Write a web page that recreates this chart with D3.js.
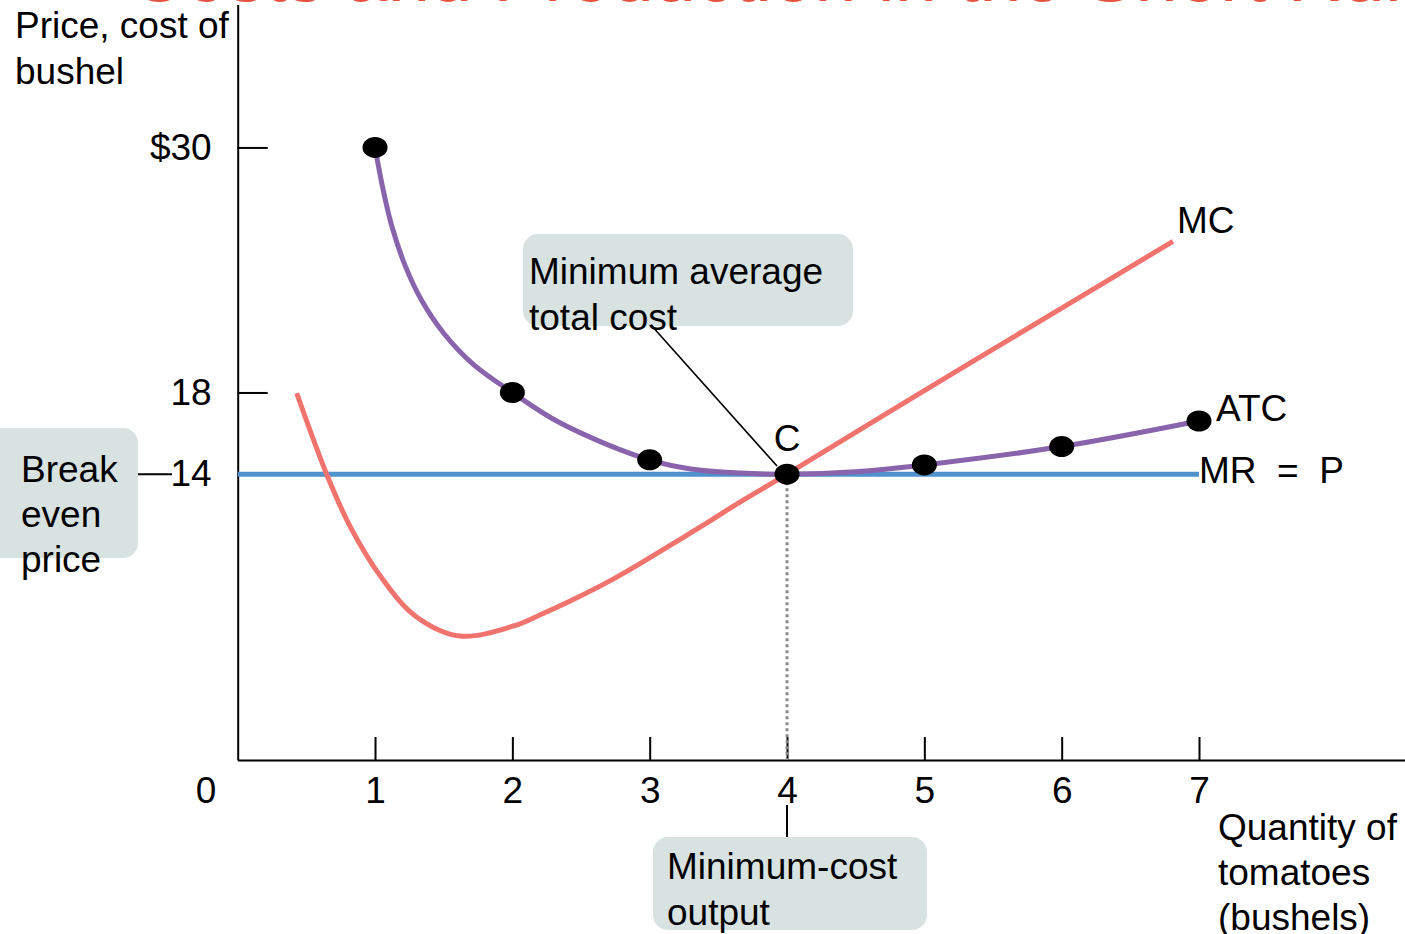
<!DOCTYPE html>
<html>
<head>
<meta charset="utf-8">
<script src="https://cdn.jsdelivr.net/npm/d3@7"></script>
<style>
  html, body { margin: 0; padding: 0; background: #fff; overflow: hidden; }
  svg { display: block; font-family: "Liberation Sans", Arial, Helvetica, sans-serif; }
  text { fill: #000; }
</style>
</head>
<body>
<svg id="chart" width="1405" height="934"></svg>
<script>
// ---- data ----
const title = "Costs and Production in the Short Run";
const xTickValues = [1, 2, 3, 4, 5, 6, 7];
const yTickValues = [30, 18, 14];
const yTickLabels = ["$30", "18", "14"];

// Average total cost curve (quantity, cost)
const atcQty  = [1, 1.06, 1.12, 1.22, 1.34, 1.5, 1.72, 2, 2.35, 2.95, 3.3, 3.66, 4, 4.5, 5, 6, 7];
const atcCost = [30, 27.9, 26.2, 24.2, 22.5, 20.9, 19.35, 18, 16.5, 14.8, 14.25, 14.05, 14.0, 14.12, 14.45, 15.35, 16.6];

// Marked points on ATC
const dotQty  = [1, 2, 3, 4, 5, 6, 7];
const dotCost = [30, 18, 14.7, 14, 14.45, 15.35, 16.6];

// Marginal cost curve
const mcQty  = [0.43, 0.65, 0.82, 1.06, 1.30, 1.62, 2.03, 2.2, 2.44, 2.69, 2.93, 3.17, 3.42, 3.54, 3.66, 3.9, 4.0, 5.0, 6.0, 6.81];
const mcCost = [17.96, 13.96, 11.42, 8.81, 7.02, 6.07, 6.61, 7.1, 7.85, 8.7, 9.62, 10.6, 11.62, 12.14, 12.64, 13.6, 14.0, 18.09, 22.13, 25.4];

// Marginal revenue = price
const mrQty = [0, 7];
const mrPrice = [14, 14];

const minCostQty = 4;
const minCostValue = 14;

// ---- drawing ----
const svg = d3.select("#chart");
const FONT = 37;

const x = d3.scaleLinear().domain([0, 8.5]).range([237.7, 1405]);
const y = d3.scaleLinear().domain([0, 37]).range([760, 4.5]);

// Title (mostly above the visible area)
svg.append("text")
  .attr("x", 130).attr("y", 1)
  .attr("font-size", 76)
  .style("fill", "#e4533f")
  .text(title);

// Annotation boxes
const boxFill = "#d8e2e0";
svg.append("rect").attr("x", 523).attr("y", 234).attr("width", 330).attr("height", 92).attr("rx", 15).attr("fill", boxFill);
svg.append("rect").attr("x", -20).attr("y", 428).attr("width", 158).attr("height", 130).attr("rx", 15).attr("fill", boxFill);
svg.append("rect").attr("x", 653).attr("y", 837).attr("width", 274).attr("height", 93).attr("rx", 15).attr("fill", boxFill);

// Axes
const xAxis = d3.axisBottom(x).tickValues(xTickValues).tickSizeInner(-23).tickSizeOuter(0).tickPadding(17).tickFormat(d3.format("d"));
const gx = svg.append("g").attr("transform", `translate(0,${y(0)})`).call(xAxis);
gx.selectAll("text").attr("font-size", FONT).attr("font-family", null).style("fill", "#000");
gx.selectAll("line, path").attr("stroke", "#000").attr("stroke-width", 2);

const yAxis = d3.axisLeft(y).tickValues(yTickValues).tickSizeInner(-30).tickSizeOuter(0).tickPadding(26)
  .tickFormat((d, i) => yTickLabels[i]);
const gy = svg.append("g").attr("transform", `translate(${x(0)},0)`).call(yAxis);
gy.selectAll("text").attr("font-size", FONT).attr("font-family", null).style("fill", "#000");
gy.selectAll("line, path").attr("stroke", "#000").attr("stroke-width", 2);

// origin label
svg.append("text").attr("x", 206).attr("y", y(0) + 17).attr("dy", "0.71em")
  .attr("text-anchor", "middle").attr("font-size", FONT).text("0");

// connector from break-even box to 14
svg.append("line").attr("x1", 138).attr("x2", 172).attr("y1", y(14)).attr("y2", y(14))
  .attr("stroke", "#000").attr("stroke-width", 2);

// dotted line at minimum-cost output
svg.append("line").attr("x1", x(minCostQty)).attr("x2", x(minCostQty))
  .attr("y1", y(minCostValue) + 8).attr("y2", y(0))
  .attr("stroke", "#8a8a8a").attr("stroke-width", 3).attr("stroke-dasharray", "3,3");
svg.append("line").attr("x1", x(minCostQty)).attr("x2", x(minCostQty))
  .attr("y1", 805).attr("y2", 837).attr("stroke", "#000").attr("stroke-width", 2);

// MR = P line
const lineGen = d3.line().x(d => x(d[0])).y(d => y(d[1]));
svg.append("path").datum(d3.zip(mrQty, mrPrice))
  .attr("d", lineGen).attr("fill", "none").attr("stroke", "#4f91cd").attr("stroke-width", 5);

// Curves
const curveGen = d3.line().x(d => x(d[0])).y(d => y(d[1])).curve(d3.curveCatmullRom.alpha(0.5));
svg.append("path").datum(d3.zip(atcQty, atcCost))
  .attr("d", curveGen).attr("fill", "none").attr("stroke", "#8a63ad").attr("stroke-width", 5);
svg.append("path").datum(d3.zip(mcQty, mcCost))
  .attr("d", curveGen).attr("fill", "none").attr("stroke", "#f1736e").attr("stroke-width", 5);

// Leader line
svg.append("line").attr("x1", 651).attr("y1", 325).attr("x2", 777).attr("y2", 466)
  .attr("stroke", "#000").attr("stroke-width", 1.6);

// Dots
svg.selectAll("ellipse.dot").data(d3.zip(dotQty, dotCost)).join("ellipse")
  .attr("class", "dot")
  .attr("cx", d => x(d[0])).attr("cy", d => y(d[1]))
  .attr("rx", 12.5).attr("ry", 10.5).attr("fill", "#000");

// Texts
function multi(lines, xx, y0, lh, anchor) {
  const t = svg.append("text").attr("font-size", FONT).attr("text-anchor", anchor || "start");
  lines.forEach((s, i) => t.append("tspan").attr("x", xx).attr("y", y0 + i * lh).text(s));
  return t;
}
multi(["Price, cost of", "bushel"], 15, 38, 46);
multi(["Quantity of", "tomatoes", "(bushels)"], 1218, 840, 45);
multi(["Minimum average", "total cost"], 529, 284, 46);
multi(["Break", "even", "price"], 21, 482, 45);
multi(["Minimum-cost", "output"], 667, 879, 46);

svg.append("text").attr("x", x(4)).attr("y", 451).attr("text-anchor", "middle").attr("font-size", FONT).text("C");
svg.append("text").attr("x", 1177).attr("y", 233).attr("font-size", FONT).text("MC");
svg.append("text").attr("x", 1216).attr("y", 421).attr("font-size", FONT).text("ATC");
svg.append("text").attr("x", 1199).attr("y", 483).attr("font-size", FONT)
  .attr("xml:space", "preserve").style("white-space", "pre").text("MR  =  P");
</script>
</body>
</html>
